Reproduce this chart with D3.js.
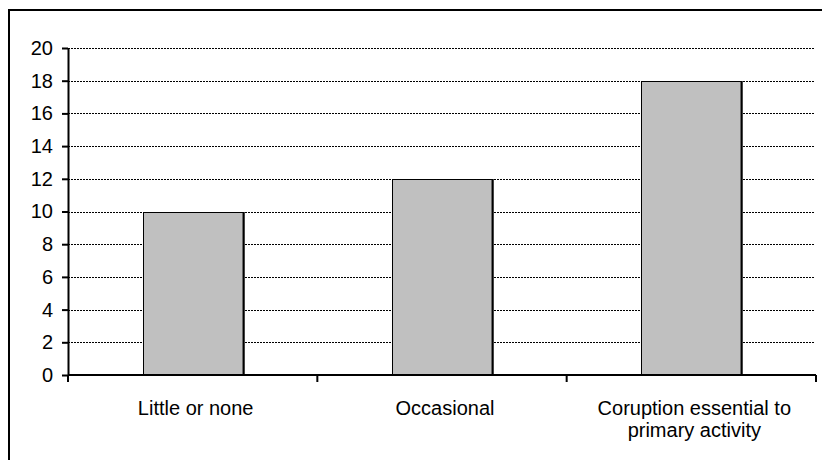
<!DOCTYPE html>
<html><head><meta charset="utf-8">
<script src="https://cdn.jsdelivr.net/npm/d3@7"></script>
<style>body{margin:0;background:#fff}svg{display:block}</style>
</head><body>
<svg id="c" width="822" height="460"></svg>
<script>
const categories = [["Little or none"], ["Occasional"], ["Coruption essential to", "primary activity"]];
const values = [10, 12, 18];
const yTicks = [0, 2, 4, 6, 8, 10, 12, 14, 16, 18, 20];

const svg = d3.select("#c");
const W = 822, H = 460;
const m = {left: 68, right: 6, top: 48, bottom: 85};
const FONT = "'Liberation Sans', Arial, sans-serif";

// outer frame (clipped at right/bottom)
svg.append("path").attr("d", `M9,${H+5}V10H${W+5}`).attr("fill","none").attr("stroke","#000").attr("stroke-width",2);

const x = d3.scaleBand().domain(d3.range(categories.length)).range([m.left, W - m.right]).paddingInner(0.6).paddingOuter(0.3);
const xb = d3.scaleBand().domain(d3.range(categories.length)).range([m.left, W - m.right]);
const y = d3.scaleLinear().domain([0, 20]).range([H - m.bottom, m.top]);

// gridlines
svg.append("g").selectAll("line").data(yTicks.filter(d => d > 0)).join("line")
  .attr("x1", m.left).attr("x2", W - m.right - 2)
  .attr("y1", d => Math.round(y(d)) + 0.5).attr("y2", d => Math.round(y(d)) + 0.5)
  .attr("stroke", "#000").attr("stroke-width", 1).attr("stroke-dasharray", "2,1");

// bars
const bars = svg.append("g");
bars.selectAll("rect").data(values).join("rect")
  .attr("x", (d, i) => Math.round(x(i)) + 0.5)
  .attr("y", d => Math.round(y(d)) + 0.5)
  .attr("width", x.bandwidth())
  .attr("height", d => y(0) - Math.round(y(d)))
  .attr("fill", "#c0c0c0").attr("stroke", "#000").attr("stroke-width", 1);
bars.selectAll("line").data(values).join("line")
  .attr("x1", (d, i) => Math.round(x(i)) + x.bandwidth() + 1)
  .attr("x2", (d, i) => Math.round(x(i)) + x.bandwidth() + 1)
  .attr("y1", d => Math.round(y(d))).attr("y2", y(0))
  .attr("stroke", "#000").attr("stroke-width", 2);

// y axis
const ya = svg.append("g").attr("transform", `translate(${m.left},0)`)
  .call(d3.axisLeft(y).tickValues(yTicks).tickSize(6).tickPadding(9).tickSizeOuter(0));
ya.attr("font-size", null).attr("font-family", null);
ya.select(".domain").attr("stroke-width", 2);
ya.selectAll(".tick line").attr("stroke-width", 2);
ya.selectAll("text").style("font-family", FONT).style("font-size", "20px").attr("fill", "#000");

// x axis
const xa = svg.append("g").attr("transform", `translate(0,${y(0)})`);
xa.append("line").attr("x1", m.left).attr("x2", W - m.right).attr("stroke", "#000").attr("stroke-width", 2);
const edges = d3.range(categories.length + 1).map(i => i < categories.length ? xb(i) : xb(i - 1) + xb.bandwidth());
xa.selectAll("line.t").data(edges).join("line").attr("class", "t")
  .attr("x1", d => d).attr("x2", d => d).attr("y1", 0).attr("y2", 7)
  .attr("stroke", "#000").attr("stroke-width", 2);

const lab = svg.append("g");
categories.forEach((lines, i) => {
  const cx = xb(i) + xb.bandwidth() / 2 + 3;
  const t = lab.append("text").attr("x", cx).attr("y", 415)
    .attr("text-anchor", "middle").style("font-family", FONT)
    .style("font-size", "20px").attr("fill", "#000");
  lines.forEach((l, j) => t.append("tspan").attr("x", cx).attr("dy", j ? 22 : 0).text(l));
});
</script>
</body></html>
